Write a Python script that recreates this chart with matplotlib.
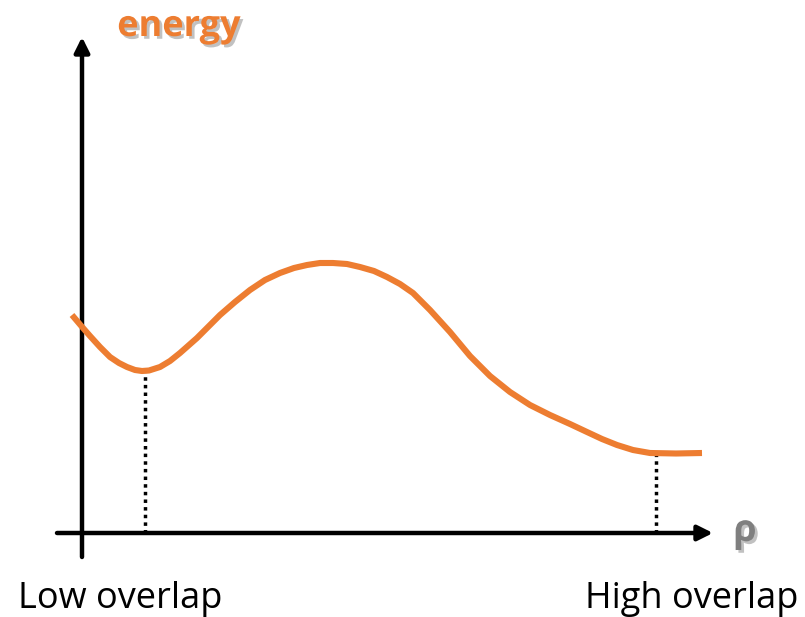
import matplotlib
matplotlib.use("Agg")
import matplotlib.pyplot as plt
import matplotlib.patheffects as pe

# curve (rho, energy), origin at axis crossing
rho = [-10, 1, 8, 18, 28, 37, 45, 53, 60, 67, 78, 88, 98, 115, 138, 153, 168,
       183, 198, 212, 225, 238, 251, 265, 278, 292, 305, 318, 331, 348, 368,
       388, 408, 428, 448, 468, 488, 505, 520, 535, 551, 568, 594, 620]
energy = [218, 205, 197, 186, 176, 170, 166, 163, 162, 162.5, 166, 172, 180,
          195, 218, 231, 243, 253, 260, 265, 268, 270, 270, 269, 266, 262,
          256, 249, 240, 223, 201, 177, 157, 141, 128, 118, 109, 101, 94, 88,
          83, 80, 79.5, 80]

low_rho, low_energy = 63, 162
high_rho, high_energy = 574, 80

orange = "#ED7D31"

plt.rcParams['font.family'] = ['Open Sans', 'DejaVu Sans']

fig = plt.figure(figsize=(8.05, 6.17), dpi=100)
ax = fig.add_axes([0, 0, 1, 1])
ax.set_xlim(-82, 723)
ax.set_ylim(-84, 533)
ax.axis('off')

# axes with arrows
ax.annotate('', xy=(0, 496), xytext=(0, -24),
            arrowprops=dict(arrowstyle='-|>,head_length=0.9,head_width=0.45',
                            lw=3.2, color='black', shrinkA=0, shrinkB=0))
ax.annotate('', xy=(631, 0), xytext=(-25, 0),
            arrowprops=dict(arrowstyle='-|>,head_length=0.9,head_width=0.45',
                            lw=3.2, color='black', shrinkA=0, shrinkB=0))

# dotted drop lines
ax.plot([low_rho, low_rho], [0, low_energy], color='black', lw=2.5,
        linestyle=(0, (1, 1.2)))
ax.plot([high_rho, high_rho], [0, high_energy], color='black', lw=2.5,
        linestyle=(0, (1, 1.2)))

ax.plot(rho, energy, color=orange, lw=4.4, solid_capstyle='butt',
        solid_joinstyle='round', zorder=5)

shadow = [pe.SimplePatchShadow(offset=(2, -2), shadow_rgbFace='#999999', alpha=0.6),
          pe.Normal()]
ax.text(97, 497, 'energy', color=orange, fontsize=26, fontweight='bold',
        ha='center', va='baseline', path_effects=shadow)
ax.text(663, 2, 'ρ', color='#7F7F7F', fontsize=27, fontweight='bold',
        ha='center', va='center', path_effects=shadow)

ax.text(-64, -75, 'Low overlap', fontsize=26, ha='left', va='baseline')
ax.text(716, -75, 'High overlap', fontsize=26, ha='right', va='baseline')

fig.savefig('out.png', dpi=100)
